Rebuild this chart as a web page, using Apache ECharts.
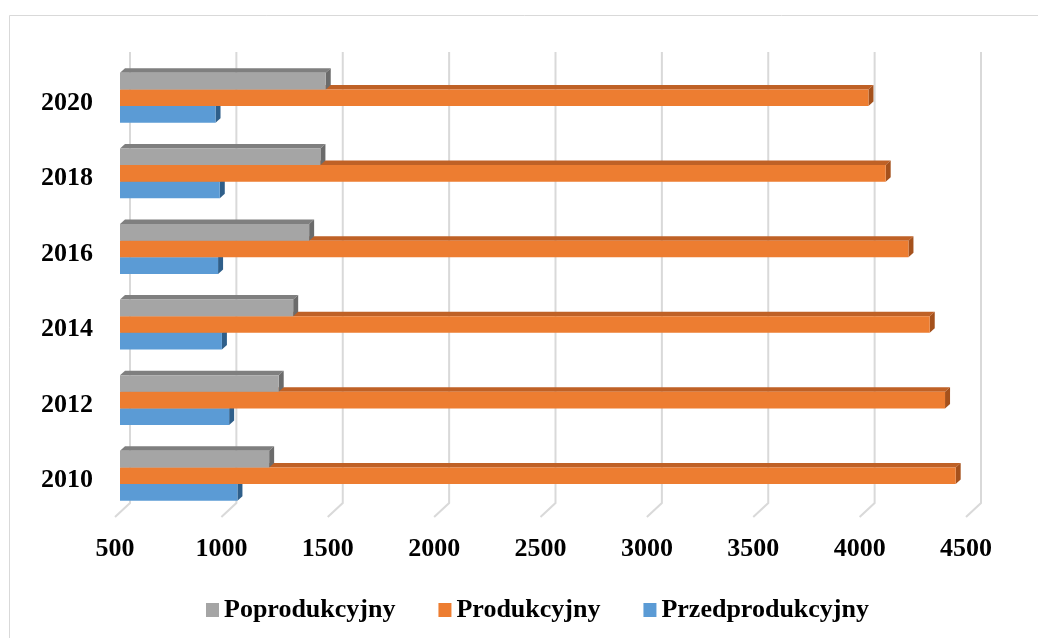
<!DOCTYPE html>
<html>
<head>
<meta charset="utf-8">
<script src="https://cdn.jsdelivr.net/npm/echarts@6/dist/echarts.min.js"></script>
<style>
  html, body { margin: 0; padding: 0; background: #fff; }
  #chart { width: 1038px; height: 638px; }
</style>
</head>
<body>
<div id="chart"></div>
<script>
// Years on the vertical axis (bottom to top)
const years = ['2010', '2012', '2014', '2016', '2018', '2020'];

// Values per stage
const przedprodukcyjny = [1052, 1013, 979, 961, 969, 949];
const produkcyjny = [4428, 4378, 4306, 4206, 4099, 4018];
const poprodukcyjny = [1201, 1246, 1314, 1389, 1442, 1467];

// Horizontal axis ticks
const xTicks = [500, 1000, 1500, 2000, 2500, 3000, 3500, 4000, 4500];
const xMin = 500, xMax = 4500, xStep = 500;

const FONT = '"Liberation Serif", "Times New Roman", serif';

// Extruded bar faces: front, top, right side
const DEPTH_X = 5, DEPTH_Y = 4.5;

function barRenderer(slot, colors) {
  return function (params, api) {
    const idx = api.value(0);
    const val = api.value(1);
    const center = api.coord([val, idx]);
    const start = api.coord([xMin, idx]);
    const band = api.size([0, 1])[1];
    const h = band * 0.22;
    const y0 = center[1] + (slot - 1.5) * h;
    const x0 = start[0];
    const x1 = center[0];
    return {
      type: 'group',
      children: [
        {
          type: 'polygon',
          shape: { points: [[x0, y0], [x1, y0], [x1 + DEPTH_X, y0 - DEPTH_Y], [x0 + DEPTH_X, y0 - DEPTH_Y]] },
          style: { fill: colors.top }
        },
        {
          type: 'polygon',
          shape: { points: [[x1, y0], [x1 + DEPTH_X, y0 - DEPTH_Y], [x1 + DEPTH_X, y0 + h - DEPTH_Y], [x1, y0 + h]] },
          style: { fill: colors.side }
        },
        {
          type: 'rect',
          shape: { x: x0, y: y0, width: x1 - x0, height: h },
          style: { fill: colors.front }
        }
      ]
    };
  };
}

function seriesData(values) {
  return values.map((v, i) => [i, v]);
}

const chart = echarts.init(document.getElementById('chart'), null, { renderer: 'canvas' });

chart.setOption({
  backgroundColor: '#ffffff',
  animation: false,
  graphic: [
    {
      type: 'rect',
      shape: { x: 9.5, y: 15.5, width: 1100, height: 700 },
      style: { fill: 'none', stroke: '#d9d9d9', lineWidth: 1 },
      silent: true,
      z: -10
    }
  ],
  grid: { left: 120, right: 67, top: 60, bottom: 124.5, containLabel: false },
  legend: {
    data: [
      { name: 'Poprodukcyjny', itemStyle: { color: '#a5a5a5' } },
      { name: 'Produkcyjny', itemStyle: { color: '#ed7d31' } },
      { name: 'Przedprodukcyjny', itemStyle: { color: '#5b9bd5' } }
    ],
    left: 201,
    top: 592,
    icon: 'rect',
    itemWidth: 13,
    itemHeight: 14,
    itemGap: 43,
    textStyle: { fontFamily: FONT, fontWeight: 'bold', fontSize: 26, lineHeight: 26, color: '#000' }
  },
  xAxis: {
    type: 'value',
    min: xMin,
    max: xMax,
    interval: xStep,
    axisLine: { show: false },
    axisTick: { show: false },
    splitLine: { show: false },
    axisLabel: {
      margin: 23,
      fontFamily: FONT,
      fontWeight: 'bold',
      fontSize: 26,
      color: '#000',
      padding: [0, 10, 0, 0],
      formatter: function (v) { return String(v); }
    }
  },
  yAxis: {
    type: 'category',
    data: years,
    axisLine: { show: false },
    axisTick: { show: false },
    splitLine: { show: false },
    axisLabel: {
      margin: 27,
      fontFamily: FONT,
      fontWeight: 'bold',
      fontSize: 26,
      color: '#000',
      verticalAlign: 'top',
      lineHeight: 10
    }
  },
  series: [
    {
      // back-wall gridlines with their slanted floor segment
      name: 'grid',
      type: 'custom',
      silent: true,
      data: xTicks.map(v => [v, 0]),
      renderItem: function (params, api) {
        const x = api.coord([api.value(0), 0])[0];
        const cs = params.coordSys;
        const bottom = cs.y + cs.height;
        return {
          type: 'polyline',
          shape: { points: [[x + 10, cs.y - 8], [x + 10, bottom - 10.5], [x - 5, bottom + 3.5]] },
          style: { fill: 'none', stroke: '#d9d9d9', lineWidth: 2 }
        };
      },
      encode: { x: 0, y: 1 }
    },
    {
      name: 'Przedprodukcyjny',
      type: 'custom',
      itemStyle: { color: '#5b9bd5' },
      data: seriesData(przedprodukcyjny),
      encode: { x: 1, y: 0 },
      renderItem: barRenderer(2, { front: '#5b9bd5', top: '#41719c', side: '#2f5f8a' })
    },
    {
      name: 'Produkcyjny',
      type: 'custom',
      itemStyle: { color: '#ed7d31' },
      data: seriesData(produkcyjny),
      encode: { x: 1, y: 0 },
      renderItem: barRenderer(1, { front: '#ed7d31', top: '#bf6126', side: '#a5511c' })
    },
    {
      name: 'Poprodukcyjny',
      type: 'custom',
      itemStyle: { color: '#a5a5a5' },
      data: seriesData(poprodukcyjny),
      encode: { x: 1, y: 0 },
      renderItem: barRenderer(0, { front: '#a5a5a5', top: '#7f7f7f', side: '#6b6b6b' })
    }
  ]
});
</script>
</body>
</html>
